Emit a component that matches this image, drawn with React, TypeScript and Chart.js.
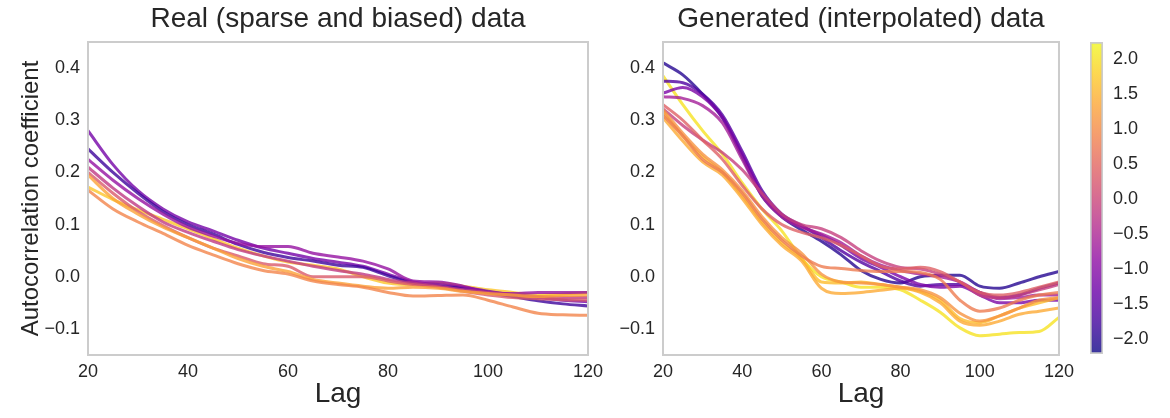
import React, { useEffect, useRef } from "react";
import { Chart, registerables } from "chart.js";

Chart.register(...registerables);
Chart.defaults.font.family = "'Liberation Sans', Arial, sans-serif";

// ---------- data ----------
const lags = [20, 25, 30, 35, 40, 45, 50, 55, 60, 65, 70, 75, 80, 85, 90, 95, 100, 105, 110, 115, 120];
const xTicks = [20, 40, 60, 80, 100, 120];
const yTicks = [-0.1, 0.0, 0.1, 0.2, 0.3, 0.4];
const cbTicks = [-2.0, -1.5, -1.0, -0.5, 0.0, 0.5, 1.0, 1.5, 2.0];
const cbMin = -2.21;
const cbMax = 2.24;

const titleReal = "Real (sparse and biased) data";
const titleGen = "Generated (interpolated) data";
const xLabel = "Lag";
const yLabel = "Autocorrelation coefficient";

// real data: colour value per series
const realZ = [0.9, 1.3, 0.3, -0.2, -0.8, -1.8, -1.2, 1.7];
const realSalmon = [0.166, 0.13, 0.105, 0.083, 0.06, 0.042, 0.025, 0.012, 0.005, -0.008, -0.015, -0.02, -0.03, -0.037, -0.036, -0.035, -0.045, -0.058, -0.07, -0.073, -0.074];
const realOrange = [0.195, 0.15, 0.12, 0.095, 0.075, 0.055, 0.035, 0.02, 0.01, -0.005, -0.012, -0.018, -0.022, -0.02, -0.022, -0.028, -0.032, -0.035, -0.038, -0.036, -0.035];
const realPink = [0.2, 0.16, 0.125, 0.098, 0.075, 0.055, 0.04, 0.025, 0.02, 0.0, 0.0, 0.0, -0.008, -0.015, -0.02, -0.028, -0.035, -0.04, -0.042, -0.044, -0.045];
const realRose = [0.21, 0.17, 0.135, 0.105, 0.085, 0.068, 0.052, 0.04, 0.03, 0.02, 0.012, 0.005, -0.005, -0.012, -0.018, -0.025, -0.03, -0.035, -0.038, -0.04, -0.04];
const realMagenta = [0.225, 0.185, 0.15, 0.12, 0.095, 0.078, 0.064, 0.058, 0.058, 0.045, 0.038, 0.03, 0.015, -0.008, -0.01, -0.018, -0.03, -0.032, -0.03, -0.03, -0.03];
const realDarkPurple = [0.245, 0.2, 0.16, 0.125, 0.1, 0.082, 0.062, 0.047, 0.037, 0.03, 0.022, 0.018, 0.002, -0.012, -0.018, -0.022, -0.03, -0.038, -0.046, -0.052, -0.056];
const realPurple = [0.28, 0.215, 0.165, 0.13, 0.105, 0.088, 0.07, 0.055, 0.045, 0.035, 0.028, 0.02, 0.005, -0.01, -0.015, -0.02, -0.028, -0.035, -0.04, -0.045, -0.048];
const realYellow = [0.172, 0.148, 0.128, 0.11, 0.092, 0.073, 0.055, 0.04, 0.028, 0.022, 0.015, 0.0, -0.012, -0.015, -0.012, -0.018, -0.025, -0.03, -0.035, -0.033, -0.03];
const realSeries = [realSalmon, realOrange, realPink, realRose, realMagenta, realDarkPurple, realPurple, realYellow];

// generated data
const genZ = [0.8, 1.1, 1.4, 1.6, 0.4, -0.1, -0.6, -1.1, -1.6, -2.0, 2.0];
const genSalmon = [0.31, 0.27, 0.225, 0.2, 0.16, 0.11, 0.07, 0.04, 0.02, 0.016, 0.012, 0.01, 0.01, 0.008, -0.005, -0.045, -0.066, -0.06, -0.045, -0.035, -0.03];
const genCoral = [0.32, 0.275, 0.235, 0.205, 0.165, 0.115, 0.075, 0.045, 0.005, -0.01, -0.012, -0.015, -0.02, -0.025, -0.04, -0.07, -0.085, -0.075, -0.06, -0.045, -0.04];
const genOrange = [0.305, 0.26, 0.22, 0.195, 0.15, 0.1, 0.06, 0.03, -0.022, -0.032, -0.03, -0.026, -0.022, -0.03, -0.05, -0.085, -0.093, -0.085, -0.072, -0.066, -0.06];
const genLightOrange = [0.315, 0.27, 0.23, 0.2, 0.155, 0.105, 0.065, 0.035, -0.01, -0.012, -0.01, -0.015, -0.02, -0.028, -0.045, -0.08, -0.088, -0.075, -0.06, -0.05, -0.04];
const genRose = [0.33, 0.3, 0.262, 0.225, 0.175, 0.13, 0.1, 0.085, 0.075, 0.06, 0.04, 0.02, 0.015, 0.018, 0.01, -0.01, -0.03, -0.035, -0.03, -0.02, -0.01];
const genPink = [0.322, 0.29, 0.262, 0.238, 0.205, 0.16, 0.12, 0.1, 0.092, 0.075, 0.05, 0.03, 0.018, 0.015, 0.005, -0.01, -0.035, -0.04, -0.035, -0.025, -0.015];
const genMagenta = [0.345, 0.342, 0.328, 0.295, 0.225, 0.155, 0.115, 0.095, 0.082, 0.065, 0.04, 0.022, 0.012, 0.005, 0.0, -0.01, -0.03, -0.042, -0.04, -0.035, -0.035];
const genPlum = [0.352, 0.363, 0.345, 0.305, 0.235, 0.16, 0.118, 0.097, 0.08, 0.06, 0.035, 0.018, 0.0, -0.015, -0.02, -0.018, -0.035, -0.05, -0.05, -0.045, -0.045];
const genPurple = [0.375, 0.372, 0.35, 0.31, 0.24, 0.165, 0.12, 0.098, 0.075, 0.05, 0.028, 0.01, -0.008, -0.018, -0.015, -0.015, -0.03, -0.04, -0.035, -0.022, -0.012];
const genDarkPurple = [0.41, 0.387, 0.35, 0.305, 0.23, 0.155, 0.115, 0.09, 0.068, 0.042, 0.012, -0.005, -0.012, 0.0, 0.003, 0.003, -0.018, -0.022, -0.012, 0.0, 0.01];
const genYellow = [0.385, 0.33, 0.28, 0.235, 0.18, 0.13, 0.088, 0.035, 0.0, -0.01, -0.02, -0.02, -0.025, -0.045, -0.068, -0.098, -0.113, -0.11, -0.107, -0.105, -0.078];
const genSeries = [genSalmon, genCoral, genOrange, genLightOrange, genRose, genPink, genMagenta, genPlum, genPurple, genDarkPurple, genYellow];

// ---------- helpers ----------
const PLASMA = ["#0d0887", "#41049d", "#6a00a8", "#8f0da4", "#b12a90", "#cc4778", "#e16462", "#f2844b", "#fca636", "#fcce25", "#f0f921"];
const hex = (h: string) => [parseInt(h.slice(1, 3), 16), parseInt(h.slice(3, 5), 16), parseInt(h.slice(5, 7), 16)];
function plasma(t: number, a: number) {
  const c = Math.max(0, Math.min(1, t)) * 10;
  const i = Math.min(9, Math.floor(c));
  const f = c - i;
  const p = hex(PLASMA[i]);
  const q = hex(PLASMA[i + 1]);
  const r = p.map((v, k) => Math.round(v + (q[k] - v) * f));
  return `rgba(${r[0]},${r[1]},${r[2]},${a})`;
}
const norm = (z: number) => (z - cbMin) / (cbMax - cbMin);
const fmt = (v: number) => (Math.abs(v) < 1e-9 ? "0.0" : v.toFixed(1)).replace("-", "\u2212");
const TEXT = "#262626";
const ALPHA = 0.8;

const framePlugin = {
  id: "frame",
  afterDatasetsDraw(chart: any) {
    const { ctx, chartArea } = chart;
    const { left, top, right, bottom } = chartArea;
    ctx.save();
    ctx.strokeStyle = "#cccccc";
    ctx.lineWidth = 2;
    ctx.strokeRect(left, top, right - left, bottom - top);
    ctx.restore();
  },
};

function panelConfig(title: string, series: number[][], zs: number[], showYTitle: boolean, yWidth: number, padRight: number): any {
  return {
    type: "line",
    data: {
      datasets: series.map((vals, i) => ({
        data: lags.map((x, j) => ({ x, y: vals[j] })),
        borderColor: plasma(norm(zs[i]), ALPHA),
        borderWidth: 3,
        pointRadius: 0,
        cubicInterpolationMode: "monotone",
        fill: false,
      })),
    },
    options: {
      animation: false,
      responsive: false,
      events: [],
      layout: { padding: { left: 0, right: padRight, top: 0, bottom: 0 } },
      plugins: {
        legend: { display: false },
        tooltip: { enabled: false },
        title: {
          display: true,
          text: title,
          fullSize: false,
          color: TEXT,
          font: { size: 28, weight: "normal" },
          padding: { top: 2, bottom: 6.4 },
        },
      },
      scales: {
        x: {
          type: "linear",
          min: 20,
          max: 120,
          grid: { display: false, drawTicks: false },
          border: { display: false },
          ticks: { color: TEXT, font: { size: 18 }, padding: 6, maxRotation: 0, autoSkip: false },
          afterBuildTicks: (s: any) => {
            s.ticks = xTicks.map((v) => ({ value: v }));
          },
          title: { display: true, text: xLabel, color: TEXT, font: { size: 28 }, padding: { top: 0, bottom: 7 } },
          afterFit: (s: any) => {
            s.height = 63;
          },
        },
        y: {
          type: "linear",
          min: -0.15,
          max: 0.45,
          grid: { display: false, drawTicks: false },
          border: { display: false },
          ticks: { color: TEXT, font: { size: 18 }, padding: 8, callback: (v: any) => fmt(Number(v)) },
          afterBuildTicks: (s: any) => {
            s.ticks = yTicks.map((v) => ({ value: v }));
          },
          title: { display: showYTitle, text: yLabel, color: TEXT, font: { size: 24 }, padding: { top: 17, bottom: 0 } },
          afterFit: (s: any) => {
            s.width = yWidth;
          },
        },
      },
    },
    plugins: [framePlugin],
  };
}

function colorbarConfig(): any {
  return {
    type: "bar",
    data: {
      labels: [""],
      datasets: [
        {
          data: [[cbMin, cbMax]],
          backgroundColor: (ctx: any) => {
            const chart = ctx.chart;
            if (!chart.chartArea) return "rgba(0,0,0,0)";
            const ys = chart.scales.y;
            const g = chart.ctx.createLinearGradient(0, ys.getPixelForValue(cbMin), 0, ys.getPixelForValue(cbMax));
            for (let i = 0; i <= 20; i++) g.addColorStop(i / 20, plasma(i / 20, ALPHA));
            return g;
          },
          borderColor: "#cccccc",
          borderWidth: 2,
          borderSkipped: false,
          barPercentage: 1,
          categoryPercentage: 1,
        },
      ],
    },
    options: {
      animation: false,
      responsive: false,
      events: [],
      layout: { padding: { left: 10, right: 0, top: 42, bottom: 64 } },
      plugins: { legend: { display: false }, tooltip: { enabled: false } },
      scales: {
        x: { display: false },
        y: {
          position: "right",
          min: cbMin,
          max: cbMax,
          grid: { display: false, drawTicks: false },
          border: { display: false },
          ticks: { color: TEXT, font: { size: 18 }, padding: 10, callback: (v: any) => fmt(Number(v)) },
          afterBuildTicks: (s: any) => {
            s.ticks = cbTicks.map((v) => ({ value: v }));
          },
          afterFit: (s: any) => {
            s.width = 67;
          },
        },
      },
    },
  };
}

function ChartCanvas({ config, left, width }: { config: () => any; left: number; width: number }) {
  const ref = useRef<HTMLCanvasElement | null>(null);
  useEffect(() => {
    if (!ref.current) return;
    const chart = new Chart(ref.current, config());
    return () => chart.destroy();
  }, []);
  return (
    <canvas
      ref={ref}
      width={width}
      height={418}
      style={{ position: "absolute", left, top: 0, width, height: 418 }}
    />
  );
}

export default function App() {
  return (
    <div style={{ position: "absolute", left: 0, top: 0, width: 1170, height: 418, background: "#ffffff", overflow: "hidden" }}>
      <ChartCanvas left={0} width={610} config={() => panelConfig(titleReal, realSeries, realZ, true, 88, 22)} />
      <ChartCanvas left={600} width={480} config={() => panelConfig(titleGen, genSeries, genZ, false, 63, 17)} />
      <ChartCanvas left={1080} width={90} config={colorbarConfig} />
    </div>
  );
}
